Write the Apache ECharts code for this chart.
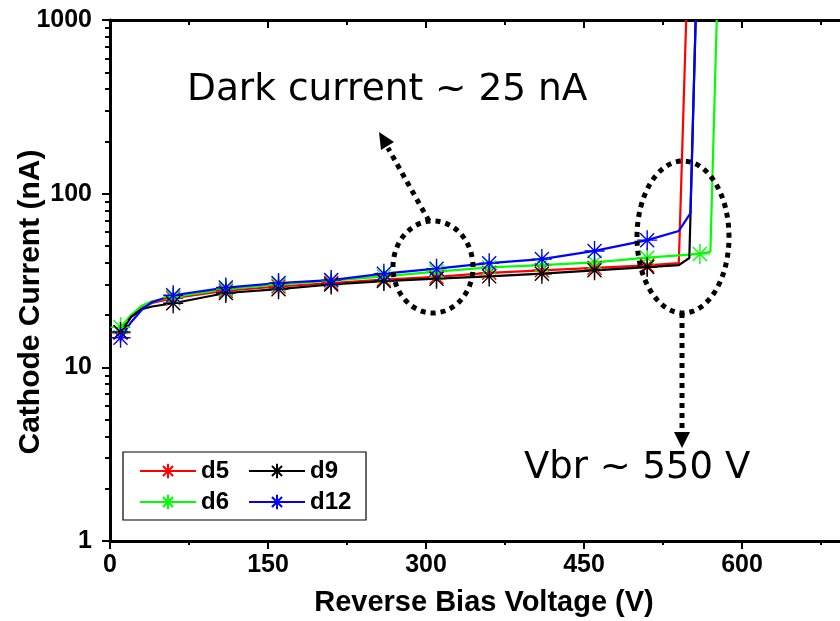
<!DOCTYPE html>
<html>
<head>
<meta charset="utf-8">
<script src="https://cdn.jsdelivr.net/npm/echarts@6/dist/echarts.min.js"></script>
<style>html,body{margin:0;padding:0;background:#fff}#c{width:840px;height:621px}</style>
</head>
<body>
<div id="c"></div>
<script>
// ---- data ----
const seriesNames = ['d5', 'd6', 'd9', 'd12'];
const legendOrder = ['d5', 'd9', 'd6', 'd12'];
const xTicks = [0, 150, 300, 450, 600, 750];
const yTicks = [1, 10, 100, 1000];

const d5V = [10, 20, 30, 40, 60, 110, 160, 210, 260, 310, 360, 410, 460, 510, 540, 547];
const d5I = [15.8, 19.5, 22.0, 23.5, 25.0, 27.6, 29.2, 30.6, 32.0, 33.2, 35.0, 36.2, 37.4, 38.6, 39.8, 1000];

const d6V = [10, 20, 30, 40, 60, 110, 160, 210, 260, 310, 360, 410, 460, 510, 560, 570, 576];
const d6I = [17.0, 20.0, 22.6, 24.0, 25.4, 28.2, 30.0, 31.6, 33.4, 35.6, 37.6, 38.8, 40.2, 42.8, 45.0, 46.3, 1000];

const d9V = [10, 20, 30, 40, 60, 110, 160, 210, 260, 310, 360, 410, 460, 510, 540, 550, 556];
const d9I = [16.0, 19.5, 21.6, 22.4, 23.4, 26.8, 28.2, 30.0, 31.4, 32.4, 33.4, 34.6, 36.2, 37.8, 38.8, 42.6, 1000];

const d12V = [10, 20, 30, 40, 60, 110, 160, 210, 260, 310, 360, 410, 460, 510, 540, 551, 556];
const d12I = [14.8, 18.2, 21.4, 23.8, 26.0, 28.8, 30.6, 31.8, 34.6, 37.0, 39.8, 42.0, 46.8, 54.0, 61.0, 77.0, 1000];

const colors = { d5: '#ff0000', d6: '#00ff00', d9: '#000000', d12: '#0000ff' };
const seriesData = { d5: [d5V, d5I], d6: [d6V, d6I], d9: [d9V, d9I], d12: [d12V, d12I] };

// markers drawn every 50 V starting at 10 V
const isMarker = v => (v - 10) % 50 === 0;
const starPath = 'path://M10,0L10,20M0,10L20,10M3,3L17,17M3,17L17,3';
const minorY = [];
[1, 10, 100].forEach(b => { for (let k = 2; k <= 9; k++) minorY.push(b * k); });

const FONT = 'Liberation Sans';
const chart = echarts.init(document.getElementById('c'), null, { renderer: 'canvas' });

const series = seriesNames.map(n => ({
  name: n,
  type: 'line',
  xAxisIndex: 0,
  yAxisIndex: 0,
  data: seriesData[n][0].map((v, i) => isMarker(v)
    ? { value: [v, seriesData[n][1][i]] }
    : { value: [v, seriesData[n][1][i]], symbol: 'none' }),
  symbol: starPath,
  symbolSize: 20,
  showAllSymbol: true,
  lineStyle: { color: colors[n], width: 2.2 },
  itemStyle: { color: colors[n], borderColor: colors[n], borderWidth: 1.4 },
  emphasis: { disabled: true },
  clip: true,
  animation: false
}));

const axisText = { fontFamily: FONT, fontWeight: 'bold', fontSize: 25, color: '#000' };

const option = {
  animation: false,
  backgroundColor: '#fff',
  grid: { left: 110, top: 20, width: 790, height: 521, containLabel: false, outerBoundsMode: 'none' },
  xAxis: [
    {
      type: 'value', min: 0, max: 750, interval: 150, position: 'bottom',
      axisLine: { show: true, onZero: false, lineStyle: { color: '#000', width: 3 } },
      axisTick: { show: true, inside: false, length: 8, lineStyle: { color: '#000', width: 2 } },
      minorTick: { show: true, splitNumber: 2, length: 4, lineStyle: { color: '#000', width: 2 } },
      axisLabel: Object.assign({ margin: 12, formatter: v => String(v) }, axisText),
      splitLine: { show: false }
    },
    {
      type: 'value', min: 0, max: 750, interval: 150, position: 'top',
      axisLine: { show: true, onZero: false, lineStyle: { color: '#000', width: 3 } },
      axisTick: { show: true, inside: true, length: 8, lineStyle: { color: '#000', width: 2 } },
      minorTick: { show: true, splitNumber: 2, length: 5, lineStyle: { color: '#000', width: 2 } },
      axisLabel: { show: false },
      splitLine: { show: false }
    }
  ],
  yAxis: [
    {
      type: 'log', logBase: 10, min: 1, max: 1000, position: 'left',
      axisLine: { show: true, onZero: false, lineStyle: { color: '#000', width: 3 } },
      axisTick: { show: true, inside: false, length: 8, lineStyle: { color: '#000', width: 2 } },
      axisLabel: Object.assign({ margin: 18, formatter: v => String(Math.round(v)) }, axisText),
      splitLine: { show: false }
    },
    {
      type: 'log', logBase: 10, min: 1, max: 1000, position: 'left',
      axisLine: { show: false },
      axisTick: { show: true, inside: false, length: 5, customValues: minorY, lineStyle: { color: '#000', width: 2 } },
      axisLabel: { show: false },
      splitLine: { show: false }
    }
  ],
  legend: {
    data: legendOrder,
    left: 123, top: 452, width: 240,
    orient: 'horizontal',
    itemWidth: 56, itemHeight: 18, itemGap: 5,
    padding: [6, 14, 5, 16],
    borderColor: '#000', borderWidth: 1.2,
    backgroundColor: '#fff',
    textStyle: { fontFamily: FONT, fontWeight: 'bold', fontSize: 24, color: '#000', width: 42, lineHeight: 26 },
    selectedMode: false
  },
  series: series,
  graphic: [
    { type: 'text', x: 31, y: 302, rotation: Math.PI / 2, silent: true,
      style: { text: 'Cathode Current (nA)', font: 'bold 30px "' + FONT + '"', fill: '#000', textAlign: 'center', textVerticalAlign: 'middle' } },
    { type: 'text', x: 484, y: 603, silent: true,
      style: { text: 'Reverse Bias Voltage (V)', font: 'bold 29px "' + FONT + '"', fill: '#000', textAlign: 'center', textVerticalAlign: 'middle' } },
    { type: 'text', x: 187, y: 90, silent: true,
      style: { text: 'Dark current ~ 25 nA', font: '37.5px "DejaVu Sans"', fill: '#000', textAlign: 'left', textVerticalAlign: 'middle' } },
    { type: 'text', x: 524, y: 468, silent: true,
      style: { text: 'Vbr ~ 550 V', font: '37px "DejaVu Sans"', fill: '#000', textAlign: 'left', textVerticalAlign: 'middle' } },
    { type: 'ellipse', silent: true, z: 100, shape: { cx: 433, cy: 267, rx: 40, ry: 46 },
      style: { fill: 'none', stroke: '#000', lineWidth: 5, lineDash: [5, 5] } },
    { type: 'ellipse', silent: true, z: 100, shape: { cx: 683, cy: 237, rx: 46, ry: 76 },
      style: { fill: 'none', stroke: '#000', lineWidth: 5, lineDash: [5, 5] } },
    { type: 'line', silent: true, z: 100, shape: { x1: 429, y1: 221, x2: 388, y2: 148 },
      style: { stroke: '#000', lineWidth: 5, lineDash: [5, 5] } },
    { type: 'polygon', silent: true, z: 100, shape: { points: [[379, 132], [394, 142], [381, 150]] },
      style: { fill: '#000' } },
    { type: 'line', silent: true, z: 100, shape: { x1: 682, y1: 313, x2: 682, y2: 432 },
      style: { stroke: '#000', lineWidth: 5, lineDash: [5, 5] } },
    { type: 'polygon', silent: true, z: 100, shape: { points: [[674, 432], [690, 432], [682, 448]] },
      style: { fill: '#000' } }
  ]
};
chart.setOption(option);
</script>
</body>
</html>
